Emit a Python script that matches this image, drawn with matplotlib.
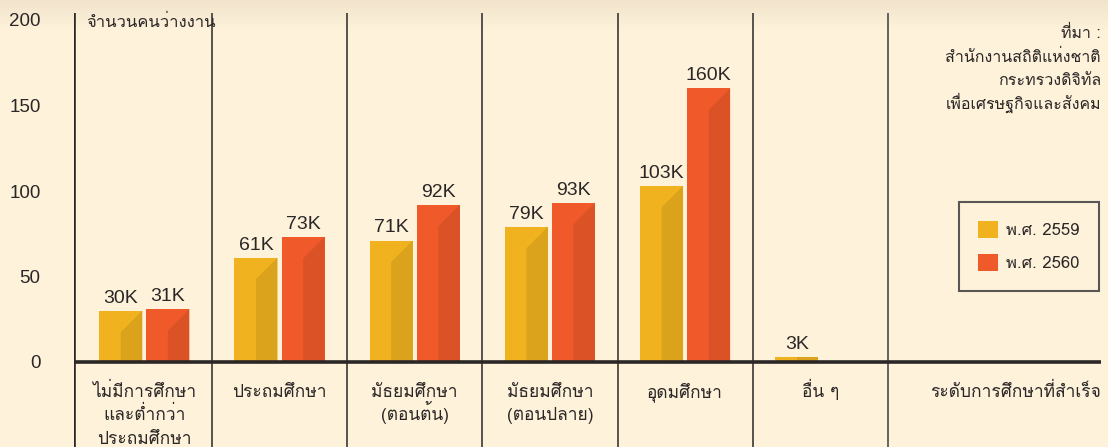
import numpy as np
import matplotlib
matplotlib.use("Agg")
import matplotlib.pyplot as plt
from matplotlib import font_manager, ft2font
from matplotlib.patches import Polygon
from matplotlib.colors import to_rgb

categories = [
    "ไม่มีการศึกษา\nและต่ำกว่า\nประถมศึกษา",
    "ประถมศึกษา",
    "มัธยมศึกษา\n(ตอนต้น)",
    "มัธยมศึกษา\n(ตอนปลาย)",
    "อุดมศึกษา",
    "อื่น ๆ",
]
series_names = ["พ.ศ. 2559", "พ.ศ. 2560"]
values_2559 = [30, 61, 71, 79, 103, 3]
values_2560 = [31, 73, 92, 93, 160, 0]
yticks = [0, 50, 100, 150, 200]
source_lines = ["ที่มา :", "สำนักงานสถิติแห่งชาติ", "กระทรวงดิจิทัล", "เพื่อเศรษฐกิจและสังคม"]

BG = "#FEF2DB"
INK = "#2B2726"
LIGHT = ["#F0B21F", "#F05A2B"]
DARK = ["#DBA21C", "#DA5225"]


def find_thai_font():
    names = []
    for f in font_manager.fontManager.ttflist:
        try:
            if 0x0E01 in ft2font.FT2Font(f.fname).get_charmap():
                names.append(f.name)
        except Exception:
            pass
    return names


thai = find_thai_font()
THAI_FAM = (thai[:1] if thai else []) + ["DejaVu Sans"]
NUM_FAM = ["Liberation Sans", "DejaVu Sans"]

W, H = 1108, 447
fig = plt.figure(figsize=(W / 100, H / 100), dpi=100)
fig.patch.set_facecolor(BG)

# soft shadow along the top edge
bg_ax = fig.add_axes([0, 0, 1, 1], zorder=-5)
grad = np.ones((H, 1, 3)) * np.array(to_rgb(BG))
top = np.array(to_rgb("#F2E4CC"))
n = 30
for r in range(n):
    t = r / n
    grad[r, 0] = top * (1 - t) + np.array(to_rgb(BG)) * t
bg_ax.imshow(grad, aspect="auto", extent=[0, 1, 0, 1])
bg_ax.axis("off")

px_x = 135.2
px_y = 1.71
left_px = 74
ax = fig.add_axes([left_px / W, 0, 1 - left_px / W, 1])
ax.patch.set_alpha(0)
x0 = -0.52
ax.set_xlim(x0, x0 + (W - left_px) / px_x)
ax.set_ylim(-(H - 362) / px_y, 362 / px_y)
for s in ax.spines.values():
    s.set_visible(False)
ax.set_xticks([])
ax.set_yticks(yticks)
ax.set_yticklabels([str(v) for v in yticks], fontsize=13.5, family=NUM_FAM, color=INK)
ax.tick_params(axis="y", length=0, pad=24)


def ypx(p):
    # pixel row (from top) -> data y
    return (362 - p) / px_y


x = np.arange(len(categories))
width = 0.318
offset = 0.174
ymin = ax.get_ylim()[0]
ytop = ypx(13)

# column grid
ax.vlines(x[:-1] + 0.5, ymin, ytop, color=INK, lw=1.1, zorder=1)
ax.vlines([x[-1] + 0.5], ymin, ytop, color="#5a5655", lw=1.3, zorder=1)
ax.vlines([x0], ymin, ytop, color=INK, lw=2.6, zorder=3)
right_x = x0 + (1101 - left_px) / px_x
ax.hlines(0, x0, right_x, color=INK, lw=2.6, zorder=3)

drop_ratio = px_x / px_y
handles = []
for k, vals in enumerate([values_2559, values_2560]):
    pos = x + (2 * k - 1) * offset
    bars = ax.bar(pos, vals, width, color=LIGHT[k], zorder=2, label=series_names[k])
    handles.append(bars)
    for xc, v in zip(pos, vals):
        if v <= 0:
            continue
        drop = (width / 2) * drop_ratio
        verts = [(xc, 0), (xc, max(v - drop, 0)), (xc + width / 2, v), (xc + width / 2, 0)]
        if v < drop:
            verts = [(xc, 0), (xc, v), (xc + width / 2, v), (xc + width / 2, 0)]
        ax.add_patch(Polygon(verts, closed=True, color=DARK[k], lw=0, zorder=2.1))
        ax.annotate(f"{v}K", (xc, v), xytext=(0, 3), textcoords="offset points",
                    ha="center", va="bottom", fontsize=14, family=NUM_FAM, color=INK)

# category labels, one text per line so the spacing stays even
for xc, lab in zip(x, categories):
    for i, line in enumerate(lab.split("\n")):
        ax.text(xc, ypx(397 + 23.5 * i), line, ha="center", va="baseline", fontsize=12.5,
                family=THAI_FAM, color=INK)

ax.text(x0 + 12 / px_x, ypx(27), "จำนวนคนว่างงาน", ha="left", va="baseline",
        fontsize=12, family=THAI_FAM, color=INK)
for i, line in enumerate(source_lines):
    ax.text(right_x, ypx(38 + 23.7 * i), line, ha="right", va="baseline",
            fontsize=11.5, family=THAI_FAM, color=INK)
ax.text(right_x, ypx(397), "ระดับการศึกษาที่สำเร็จ", ha="right", va="baseline",
        fontsize=12.5, family=THAI_FAM, color=INK)

leg = ax.legend(handles=[h.patches[0] for h in handles], labels=series_names,
                loc="center", bbox_to_anchor=((957 + 1101) / 2 / W, 1 - (203 + 290) / 2 / H),
                bbox_transform=fig.transFigure, frameon=True, fancybox=False,
                prop={"family": THAI_FAM, "size": 12}, handlelength=1.2, handleheight=1.2,
                labelspacing=0.9, borderpad=1.15, handletextpad=0.5, borderaxespad=0)
leg.get_frame().set_edgecolor("#5a5655")
leg.get_frame().set_linewidth(1.5)
leg.get_frame().set_facecolor(BG)
leg.get_frame().set_alpha(1)
for t in leg.get_texts():
    t.set_color(INK)

fig.savefig("out.png", dpi=100, facecolor=BG)
